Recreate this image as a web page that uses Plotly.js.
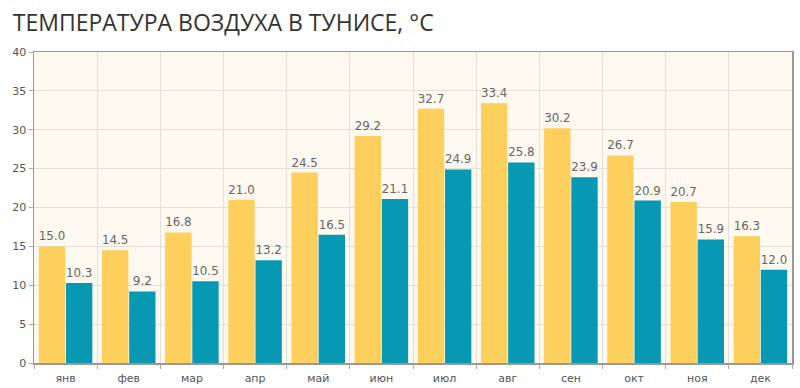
<!DOCTYPE html>
<html><head><meta charset="utf-8">
<script src="https://cdn.plot.ly/plotly-3.0.1.min.js"></script>
<style>html,body{margin:0;padding:0;background:#fff;}#chart{width:800px;height:388px;}</style>
</head><body><div id="chart"></div>
<script>
var months = ["янв","фев","мар","апр","май","июн","июл","авг","сен","окт","ноя","дек"];
var dayTemp = [15.0,14.5,16.8,21.0,24.5,29.2,32.7,33.4,30.2,26.7,20.7,16.3];
var nightTemp = [10.3,9.2,10.5,13.2,16.5,21.1,24.9,25.8,23.9,20.9,15.9,12.0];
var yTicks = [0,5,10,15,20,25,30,35,40];

function mk(vals,color){
  return {type:"bar",x:months,y:vals,marker:{color:color},
    text:vals.map(function(v){return v.toFixed(1);}),textposition:"outside",
    cliponaxis:false,
    textfont:{family:"DejaVu Sans",size:12,color:"#666"},hoverinfo:"none"};
}
var data=[mk(dayTemp,"#fdcf5d"),mk(nightTemp,"#0798b4")];
var layout={
  width:800,height:388,
  margin:{l:34,r:8,t:52,b:25},
  paper_bgcolor:"#ffffff",plot_bgcolor:"#fdf9f0",
  showlegend:false,
  bargap:0.14,bargroupgap:0.03,
  title:{text:"ТЕМПЕРАТУРА ВОЗДУХА В ТУНИСЕ, °C",x:0.016,xanchor:"left",y:0.94,yanchor:"middle",
    font:{family:"Open Sans",size:23,color:"#333"}},
  xaxis:{type:"category",tickson:"boundaries",showgrid:true,gridcolor:"#e3e0d8",
    showline:true,linecolor:"#999",linewidth:1.5,mirror:true,
    ticks:"outside",ticklen:4,tickcolor:"#aaa",ticklabelstandoff:4,
    tickfont:{family:"DejaVu Sans",size:11,color:"#555"},fixedrange:true},
  yaxis:{range:[0,40],tickvals:yTicks,showgrid:true,gridcolor:"#e3e0d8",
    showline:true,linecolor:"#999",linewidth:1.5,mirror:true,
    ticks:"outside",ticklen:4,tickcolor:"#aaa",zeroline:false,
    tickfont:{family:"DejaVu Sans",size:11,color:"#555"},fixedrange:true}
};
Plotly.newPlot("chart",data,layout,{displayModeBar:false,staticPlot:true});
</script></body></html>
